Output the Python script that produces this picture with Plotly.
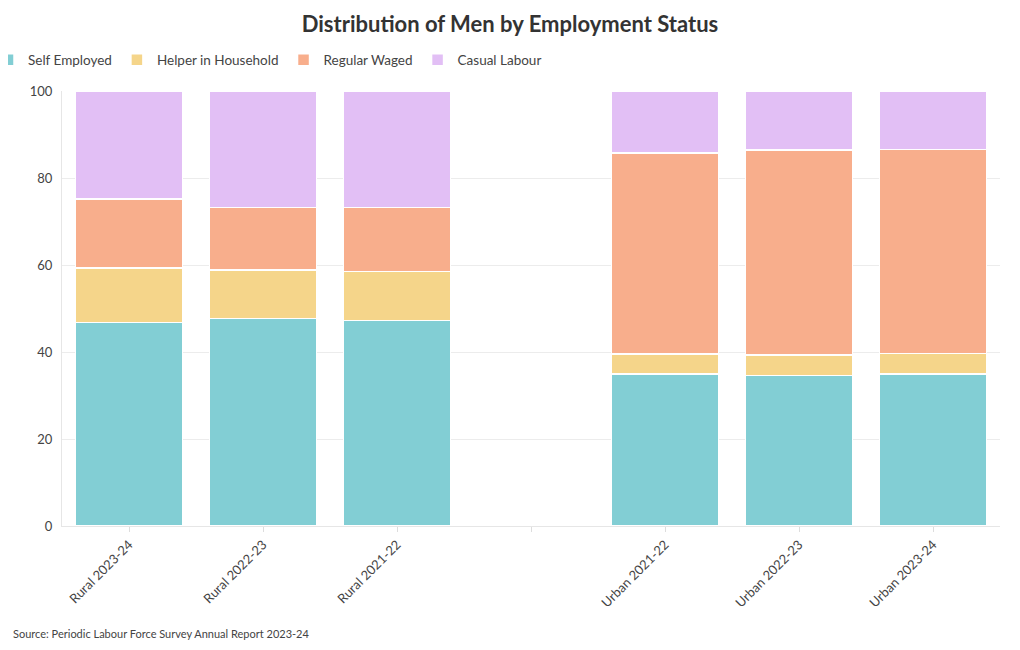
import plotly.graph_objects as go

categories = ["Rural 2023-24", "Rural 2022-23", "Rural 2021-22", " ",
              "Urban 2021-22", "Urban 2022-23", "Urban 2023-24"]
self_employed = [46.8, 47.7, 47.2, None, 34.9, 34.6, 35.0]
helper = [12.5, 11.1, 11.3, None, 4.6, 4.7, 4.7]
regular = [15.9, 14.4, 14.7, None, 46.2, 47.1, 46.9]
casual = [24.8, 26.8, 26.8, None, 14.3, 13.6, 13.4]

series = [
    ("Self Employed", self_employed, "#82CED4"),
    ("Helper in Household", helper, "#F5D58A"),
    ("Regular Waged", regular, "#F8AE8C"),
    ("Casual Labour", casual, "#E2BFF5"),
]

FONT = "Source Sans Pro, Lato, sans-serif"
OFF = 8  # page body margin
L, R, T, B = 62 - OFF, 20 + OFF, 91 - OFF, 124 + OFF
PW, PH = 1020 - L - R, 650 - T - B


def px_x(x):
    return (x - OFF - L) / PW


def px_y(y):
    return (650 - B - (y - OFF)) / PH


fig = go.Figure()
for name, vals, col in series:
    fig.add_trace(go.Bar(
        x=categories, y=vals, name=name,
        marker=dict(color=col, line=dict(color="white", width=1.5)),
    ))

fig.update_layout(
    barmode="stack",
    bargap=0.2,
    width=1020, height=650,
    paper_bgcolor="white", plot_bgcolor="white",
    font=dict(family=FONT, size=13, color="#444"),
    margin=dict(l=L, r=R, t=T, b=B, autoexpand=False),
    title=dict(text="<b>Distribution of Men by Employment Status</b>",
               x=(510 - OFF) / 1020, xanchor="center", xref="container",
               y=1 - 16 / 650, yanchor="middle", yref="container",
               font=dict(family=FONT, size=22, color="#333")),
    legend=dict(orientation="h", xref="paper", yref="paper",
                x=px_x(-12), xanchor="left", y=px_y(60), yanchor="middle",
                font=dict(size=13.5, color="#444"), traceorder="normal",
                itemwidth=30),
    xaxis=dict(type="category", tickangle=-45, ticks="outside", ticklen=5,
               tickcolor="#ddd", showline=True, linecolor="#e6e6e6",
               tickfont=dict(size=13, color="#444"), showgrid=False,
               automargin=False),
    yaxis=dict(range=[0, 100], dtick=20, showgrid=True, gridcolor="#ececec",
               showline=True, linecolor="#e6e6e6", zeroline=False,
               ticklabelstandoff=6,
               tickfont=dict(size=13, color="#444"), automargin=False),
    annotations=[dict(text="Source: Periodic Labour Force Survey Annual Report 2023-24",
                      xref="paper", yref="paper", x=px_x(11),
                      y=px_y(633),
                      xanchor="left", yanchor="middle", showarrow=False,
                      font=dict(size=11, color="#444"))],
)

fig.write_html("out.html")
